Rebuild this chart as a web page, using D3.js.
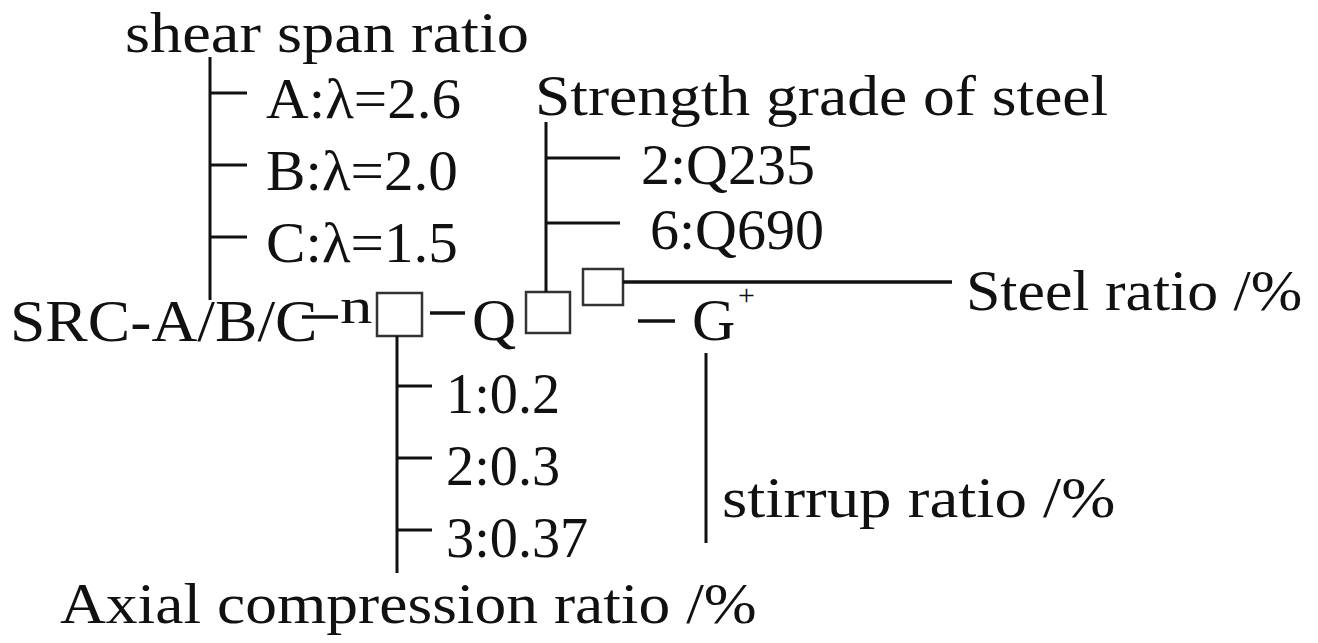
<!DOCTYPE html>
<html>
<head>
<meta charset="utf-8">
<script src="https://cdn.jsdelivr.net/npm/d3@7"></script>
<style>
  html, body { margin: 0; padding: 0; background: #fff; }
  svg { display: block; }
  text { font-family: "Liberation Serif", "Times New Roman", serif; fill: #111; }
</style>
</head>
<body>
<svg id="chart" width="1318" height="643"></svg>
<script>
// ---- data ----
const shearTitle = "shear span ratio";
const shearKeys = ["A", "B", "C"];
const shearValues = ["2.6", "2.0", "1.5"];

const gradeTitle = "Strength grade of steel";
const gradeKeys = ["2", "6"];
const gradeValues = ["Q235", "Q690"];

const axialTitle = "Axial compression ratio /%";
const axialKeys = ["1", "2", "3"];
const axialValues = ["0.2", "0.3", "0.37"];

const steelTitle = "Steel ratio /%";
const stirrupTitle = "stirrup ratio /%";

const codeParts = ["SRC-A/B/C", "n", "Q", "G"];

// ---- drawing ----
const svg = d3.select("#chart");
const FS = 58;         // main font size
const INK = "#111";

function stretchText(sel, factor) {
  sel.each(function () {
    const len = this.getComputedTextLength();
    d3.select(this).attr("textLength", len * factor).attr("lengthAdjust", "spacingAndGlyphs");
  });
}
function line(x1, y1, x2, y2, w) {
  svg.append("line").attr("x1", x1).attr("y1", y1).attr("x2", x2).attr("y2", y2)
    .attr("stroke", INK).attr("stroke-width", w || 3);
}
function box(x, y, w, h) {
  svg.append("rect").attr("x", x).attr("y", y).attr("width", w).attr("height", h)
    .attr("fill", "#fff").attr("stroke", "#333").attr("stroke-width", 2.5);
}
function label(x, y, str, size, factor) {
  const t = svg.append("text").attr("x", x).attr("y", y).attr("font-size", size || FS).text(str);
  stretchText(t, factor || 1);
  return t;
}

// scales for tick rows
const yShear = d3.scalePoint().domain(shearKeys).range([93, 237]);
const yGrade = d3.scalePoint().domain(gradeKeys).range([158, 223]);
const yAxial = d3.scalePoint().domain(axialKeys).range([386, 530]);

// --- shear span ratio branch ---
label(125, 52, shearTitle, FS, 1.11);
line(210, 57, 210, 300);
shearKeys.forEach((k, i) => {
  const y = yShear(k);
  line(210, y, 247, y, 3);
  label(266, y + 25, k + ":λ=" + shearValues[i], FS, 1.02);
});

// --- main designation line ---
label(10, 341, codeParts[0], 60, 1.06);
line(302, 317, 338, 317, 3.5);
label(340, 323, codeParts[1], 50, 1.3);
box(377, 293, 45, 43);
line(430, 313, 465, 313, 3.5);
label(472, 340, codeParts[2], 60, 1.02);
box(526, 292, 44, 41);
box(583, 269, 40, 36);
line(638, 321, 675, 321, 3.5);
label(692, 340, codeParts[3], 60, 1.0);
label(738, 305, "+", 30, 1.0);

// --- strength grade branch ---
label(535, 115, gradeTitle, FS, 1.095);
line(546, 122, 546, 292);
gradeKeys.forEach((k, i) => {
  const y = yGrade(k);
  line(546, y, 620, y, 3);
  label(641 + i * 9, y + 26, k + ":" + gradeValues[i], FS, 1.0);
});

// --- steel ratio ---
line(623, 282, 952, 282, 3.5);
label(966, 310, steelTitle, FS, 1.065);

// --- stirrup ratio ---
line(706, 353, 706, 543);
label(722, 517, stirrupTitle, FS, 1.12);

// --- axial compression branch ---
line(397, 336, 397, 573);
axialKeys.forEach((k, i) => {
  const y = yAxial(k);
  line(397, y, 432, y, 3);
  label(446, y + 27, k + ":" + axialValues[i], FS, 0.97);
});
label(60, 623, axialTitle, FS, 1.095);
</script>
</body>
</html>
